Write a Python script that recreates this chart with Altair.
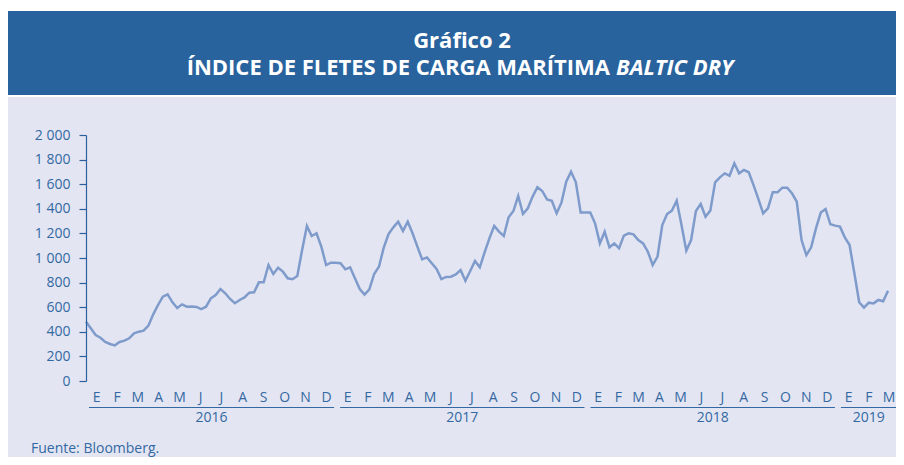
import altair as alt
import pandas as pd

# Weekly Baltic Dry Index values (Fridays from 2016-01-01)
bdi_2016 = [482, 428, 374, 352, 317, 301, 290, 317, 328, 347,
            388, 401, 409, 450, 542, 618, 685, 705, 640, 593,
            623, 604, 606, 602, 585, 604, 672, 699, 748, 713,
            667, 632, 659, 680, 718, 721, 802, 802, 943, 870,
            921, 889, 835, 827, 854, 1065, 1260, 1179, 1201, 1092,
            943, 962, 962]
bdi_2017 = [957, 908, 924, 835, 748, 702, 745, 870, 929, 1084,
            1195, 1249, 1295, 1220, 1295, 1201, 1092, 989, 1005, 957,
            911, 829, 846, 848, 867, 902, 815, 894, 976, 924,
            1046, 1160, 1260, 1214, 1179, 1331, 1382, 1504, 1358, 1404,
            1499, 1575, 1545, 1477, 1466, 1363, 1450, 1621, 1702, 1615,
            1369, 1369]
bdi_2018 = [1369, 1282, 1119, 1214, 1087, 1119, 1079, 1182, 1201, 1192,
            1146, 1119, 1051, 943, 1011, 1268, 1358, 1385, 1466, 1268,
            1060, 1146, 1382, 1439, 1336, 1385, 1615, 1656, 1688, 1669,
            1770, 1688, 1715, 1697, 1593, 1480, 1363, 1404, 1534, 1534,
            1572, 1572, 1526, 1458, 1146, 1024, 1087, 1241, 1369, 1398,
            1274, 1263]
bdi_2019 = [1255, 1168, 1106, 876, 640, 596, 637, 631, 659, 648, 734]

month_letters = ["E", "F", "M", "A", "M", "J", "J", "A", "S", "O", "N", "D"]
years = [2016, 2017, 2018, 2019]
last_month_2019 = 3
y_ticks = [0, 200, 400, 600, 800, 1000, 1200, 1400, 1600, 1800, 2000]

title_line1 = "Gráfico 2"
title_line2 = "ÍNDICE DE FLETES DE CARGA MARÍTIMA"
title_italic = "BALTIC DRY"
source_text = "Fuente: Bloomberg."

# ---- build tables ----
values = bdi_2016 + bdi_2017 + bdi_2018 + bdi_2019
dates = pd.date_range("2016-01-01", periods=len(values), freq="7D")
FMT = "%Y-%m-%dT%H:%M:%S"
df = pd.DataFrame({"date": dates.strftime(FMT), "bdi": values})

month_rows, tick_dates, year_rows = [], [], []
for y in years:
    nm = 12 if y < 2019 else last_month_2019
    for m in range(1, nm + 1):
        start = pd.Timestamp(y, m, 1)
        end = start + pd.offsets.MonthBegin(1)
        mid = start + (end - start) / 2
        month_rows.append({"mid": mid.strftime(FMT), "label": month_letters[m - 1]})
        tick_dates.append(alt.DateTime(year=y, month=m, date=1))
    ys = pd.Timestamp(y, 1, 1)
    ye = pd.Timestamp(y, nm, 1) + pd.offsets.MonthBegin(1)
    year_rows.append({"start": ys.strftime(FMT), "end": ye.strftime(FMT),
                      "mid": (ys + (ye - ys) / 2).strftime(FMT), "label": str(y)})
months_df = pd.DataFrame(month_rows)
years_df = pd.DataFrame(year_rows)

TXT = "#3468A3"
AX = "#2B5F9E"
FONT = "Open Sans"
W, H = 802, 246
PL, PT = 78, 127
PR = 888 - PL - W
PB = 449 - PT - H
OX, OY = 8 + PL, 8 + PT   # page position of the plot origin

x_scale = alt.Scale(domain=[alt.DateTime(year=2016, month=1, date=1),
                            alt.DateTime(year=2019, month=3, date=15)])

one = alt.Data(values=[{"k": 1}])

bg = alt.Chart(one).mark_rect(color="#E3E6F2").encode(
    x=alt.value(-PL), x2=alt.value(W + PR), y=alt.value(97 - OY), y2=alt.value(H + PB))
band = alt.Chart(one).mark_rect(color="#28639E").encode(
    x=alt.value(-PL), x2=alt.value(W + PR), y=alt.value(11 - OY), y2=alt.value(95 - OY))

t1 = alt.Chart(one).mark_text(text=title_line1, font=FONT, fontSize=22, fontWeight="bold",
                              color="white", align="center", baseline="middle").encode(
    x=alt.value(462 - OX), y=alt.value(41 - OY))
t2 = alt.Chart(one).mark_text(text=title_line2, font=FONT, fontSize=22, fontWeight="bold",
                              color="white", align="right", baseline="middle").encode(
    x=alt.value(610 - OX), y=alt.value(68 - OY))
t3 = alt.Chart(one).mark_text(text=title_italic, font=FONT, fontSize=22, fontWeight="bold",
                              fontStyle="italic", color="white", align="left",
                              baseline="middle").encode(
    x=alt.value(616 - OX), y=alt.value(68 - OY))

line = alt.Chart(df).mark_line(color="#7F9BCB", strokeWidth=2.5).encode(
    x=alt.X("date:T", scale=x_scale,
            axis=alt.Axis(values=tick_dates, labels=False, title=None, grid=False,
                          tickSize=6, tickColor=AX, domainColor=AX, domainWidth=1.2,
                          tickWidth=1.2, zindex=1)),
    y=alt.Y("bdi:Q", scale=alt.Scale(domain=[0, 2000], nice=False),
            axis=alt.Axis(values=y_ticks, title=None, grid=False, tickSize=7,
                          labelPadding=9, labelFont=FONT, labelFontSize=14,
                          labelColor=TXT, tickColor=AX, domainColor=AX,
                          domainWidth=1.2, tickWidth=1.2, zindex=1,
                          labelExpr="replace(format(datum.value, ','), ',', ' ')")),
)

months = alt.Chart(months_df).mark_text(font=FONT, fontSize=14, color=TXT,
                                        baseline="middle").encode(
    x=alt.X("mid:T", axis=None), text="label:N", y=alt.value(398 - OY))

year_rules = alt.Chart(years_df).mark_rule(color=TXT, strokeWidth=1.2,
                                           xOffset=3, x2Offset=-3).encode(
    x=alt.X("start:T", axis=None), x2="end:T", y=alt.value(407.5 - OY))

year_text = alt.Chart(years_df).mark_text(font=FONT, fontSize=14, color=TXT,
                                          baseline="middle").encode(
    x=alt.X("mid:T", axis=None), text="label:N", y=alt.value(418 - OY))

source = alt.Chart(one).mark_text(text=source_text, font=FONT, fontSize=14, color=TXT,
                                  align="left", baseline="middle").encode(
    x=alt.value(31 - OX), y=alt.value(449 - OY))

chart = alt.layer(bg, band, t1, t2, t3, line, months, year_rules, year_text, source).properties(
    width=W, height=H,
    autosize=alt.AutoSizeParams(type="none"),
    padding={"left": PL, "top": PT, "right": PR, "bottom": PB},
    background="white",
).configure_view(strokeWidth=0)

chart.save("out.html", embed_options={"renderer": "svg", "actions": False})
